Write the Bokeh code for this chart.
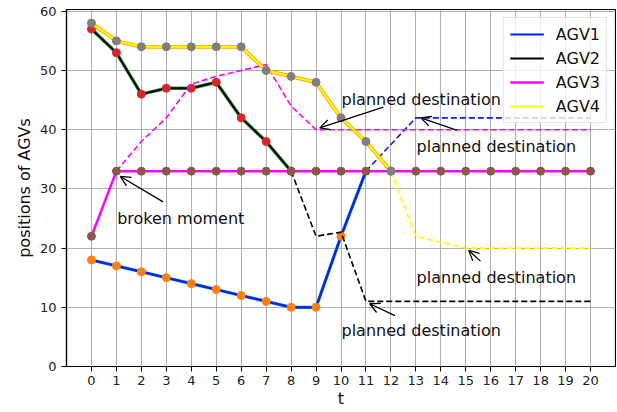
from bokeh.plotting import figure
from bokeh.models import (Range1d, FixedTicker, Legend, LegendItem, Arrow, OpenHead,
                          Label)
from bokeh.embed import file_html
from bokeh.resources import INLINE

# ---------------- data ----------------
t_ticks = list(range(21))
y_ticks = [0, 10, 20, 30, 40, 50, 60]

agv1_t = list(range(12))
agv1_y = [18, 17, 16, 15, 14, 13, 12, 11, 10, 10, 22, 33]
agv1_mk_t = list(range(11))
agv1_mk_y = [18, 17, 16, 15, 14, 13, 12, 11, 10, 10, 22]
agv1_plan_t = list(range(11, 21))
agv1_plan_y = [33, 37.5, 42, 42, 42, 42, 42, 42, 42, 42]

agv2_t = list(range(9))
agv2_y = [57, 53, 46, 47, 47, 48, 42, 38, 33]
agv2_plan_t = list(range(8, 21))
agv2_plan_y = [33, 22, 22.7, 11, 11, 11, 11, 11, 11, 11, 11, 11, 11]

agv3_t = list(range(21))
agv3_y = [22] + [33] * 20
agv3_plan_t = list(range(1, 21))
agv3_plan_y = [33, 38, 42, 47.7, 49, 50, 51, 44, 40, 40, 40, 40, 40, 40, 40, 40, 40, 40, 40, 40]

agv4_t = list(range(13))
agv4_y = [58, 55, 54, 54, 54, 54, 54, 50, 49, 48, 42, 38, 33]
agv4_plan_t = list(range(12, 21))
agv4_plan_y = [33, 22, 21, 20, 20, 20, 20, 20, 20]

FONT = "DejaVu Sans"

p = figure(width=616, height=410, output_backend="svg", toolbar_location=None,
           x_range=Range1d(-1, 21), y_range=Range1d(0, 60.3),
           min_border_left=66, min_border_right=1, min_border_top=9, min_border_bottom=40)
p.background_fill_color = "white"
p.border_fill_color = "white"
p.outline_line_color = "black"
p.outline_line_width = 1.2

for ax in (p.xaxis[0], p.yaxis[0]):
    ax.major_label_text_font = FONT
    ax.major_label_text_font_size = "13px"
    ax.major_label_text_color = "#222222"
    ax.axis_label_text_font = FONT
    ax.axis_label_text_font_size = "16px"
    ax.axis_label_text_font_style = "normal"
    ax.axis_label_text_color = "#111111"
    ax.minor_tick_line_color = None
    ax.major_tick_in = 0
    ax.major_tick_out = 5
    ax.major_tick_line_color = "black"
    ax.axis_line_color = "black"
    ax.axis_line_width = 1.2

p.xaxis.ticker = FixedTicker(ticks=t_ticks)
p.yaxis.ticker = FixedTicker(ticks=y_ticks)
p.xaxis.axis_label = "t"
p.yaxis.axis_label = "positions of AGVs"
p.xaxis.axis_label_standoff = 1
p.xaxis.major_label_standoff = 4
p.yaxis.axis_label_standoff = 3

p.grid.grid_line_color = "#b0b0b0"
p.grid.grid_line_width = 1.1

# ---- AGV1 ----
p.line(agv1_t, agv1_y, line_color="#1f77b4", line_width=3.2)
l1 = p.line(agv1_t, agv1_y, line_color="#0022ee", line_width=2)
p.line(agv1_plan_t, agv1_plan_y, line_color="#0022ee", line_width=1.6, line_dash="6 3")
p.scatter(agv1_mk_t, agv1_mk_y, size=8, fill_color="#ff7f0e", line_color="#ff7f0e")

# ---- AGV2 ----
p.line(agv2_t, agv2_y, line_color="#2ca02c", line_width=3.5)
l2 = p.line(agv2_t, agv2_y, line_color="black", line_width=2)
p.line(agv2_plan_t, agv2_plan_y, line_color="black", line_width=1.6, line_dash="6 3")
p.scatter(agv2_t, agv2_y, size=8, fill_color="#d62728", line_color="#d62728")

# ---- AGV3 ----
l3 = p.line(agv3_t, agv3_y, line_color="#ff00ff", line_width=2.5)
p.line(agv3_plan_t, agv3_plan_y, line_color="#ff00ff", line_width=1.6, line_dash="6 3")
p.scatter(agv3_t, agv3_y, size=8, fill_color="#8c564b", line_color="#8c564b")

# ---- AGV4 ----
p.line(agv4_t, agv4_y, line_color="#ffa500", line_width=3.8)
l4 = p.line(agv4_t, agv4_y, line_color="#ffff00", line_width=2)
p.line(agv4_plan_t, agv4_plan_y, line_color="#ffff00", line_width=1.6, line_dash="6 3")
p.scatter(agv4_t, agv4_y, size=8, fill_color="#7f7f7f", line_color="#7f7f7f")

# ---- annotations ----
annots = [
    ("planned destination", 10.02, 45.1, 11.7, 43.8, 9.15, 40.3),
    ("planned destination", 13.03, 37.2, 14.66, 39.9, 13.2, 42.0),
    ("planned destination", 13.03, 15.0, 15.59, 17.8, 15.12, 19.6),
    ("planned destination", 10.02, 6.0, 12.16, 8.6, 11.15, 10.6),
    ("broken moment", 1.03, 25.0, 2.87, 27.8, 1.16, 32.1),
]
for txt, tx, ty, xs, ys, xe, ye in annots:
    p.add_layout(Label(x=tx, y=ty, text=txt, text_font=FONT, text_font_size="16px",
                       text_color="#111111", text_baseline="alphabetic", text_align="left"))
    p.add_layout(Arrow(x_start=xs, y_start=ys, x_end=xe, y_end=ye, line_color="black",
                       line_width=1.3,
                       end=OpenHead(size=10, line_color="black", line_width=1.3)))

legend = Legend(items=[LegendItem(label="AGV1", renderers=[l1]),
                       LegendItem(label="AGV2", renderers=[l2]),
                       LegendItem(label="AGV3", renderers=[l3]),
                       LegendItem(label="AGV4", renderers=[l4])],
                location="top_right")
legend.label_text_font = FONT
legend.label_text_font_size = "16px"
legend.label_text_color = "#111111"
legend.glyph_width = 34
legend.glyph_height = 20
legend.label_height = 20
legend.spacing = 4
legend.padding = 6
legend.margin = 8
legend.label_standoff = 12
legend.border_line_color = "#cccccc"
legend.border_line_width = 1
legend.background_fill_alpha = 0.8
p.add_layout(legend)

open("out.html", "w").write(file_html(p, INLINE))
